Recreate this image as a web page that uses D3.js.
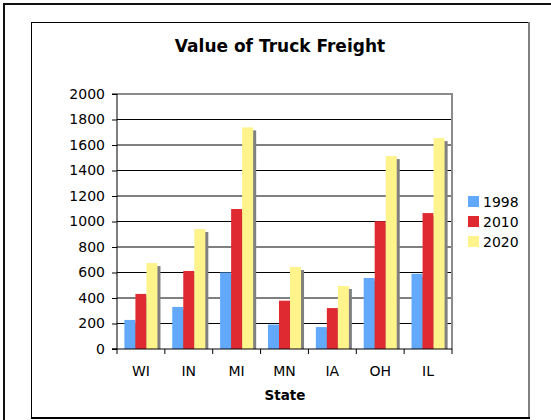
<!DOCTYPE html>
<html lang="en">
<head>
<meta charset="utf-8">
<title>Value of Truck Freight</title>
<script src="https://d3js.org/d3.v7.min.js"></script>
<style>
body { margin: 0; background: #fff; }
text { font-family: "DejaVu Sans", Verdana, sans-serif; fill: #000; }
</style>
</head>
<body>
<div id="container"></div>
<script>
// chart data
var states = ["WI", "IN", "MI", "MN", "IA", "OH", "IL"];
var years = ["1998", "2010", "2020"];
var v1998 = [228, 330, 600, 192, 172, 557, 590];
var v2010 = [432, 612, 1098, 379, 321, 1002, 1066];
var v2020 = [674, 941, 1738, 643, 494, 1513, 1654];
var yTicks = [0, 200, 400, 600, 800, 1000, 1200, 1400, 1600, 1800, 2000];
var colors = ["#63a9fb", "#df2a32", "#fff38b"];

var series = [v1998, v2010, v2020];
var rows = [];
states.forEach(function(s, i) {
    years.forEach(function(yr, j) {
        rows.push({state: s, year: yr, value: series[j][i]});
    });
});

var w = 551, h = 420;
var svg = d3.select("#container").append("svg")
    .attr("width", w).attr("height", h);

// outer frame (runs off right/bottom like the screenshot)
svg.append("rect")
    .attr("x", 4).attr("y", 4).attr("width", 560).attr("height", 430)
    .attr("fill", "none").attr("stroke", "#111").attr("stroke-width", 2);

// chart area frame
svg.append("rect")
    .attr("x", 31.5).attr("y", 22.5).attr("width", 497).attr("height", 395)
    .attr("fill", "#fff").attr("stroke", "#000").attr("stroke-width", 1);
svg.append("line")
    .attr("x1", 529).attr("x2", 529).attr("y1", 22).attr("y2", 419)
    .attr("stroke", "#808080").attr("stroke-width", 2);
svg.append("line")
    .attr("x1", 31).attr("x2", 530).attr("y1", 418).attr("y2", 418)
    .attr("stroke", "#000").attr("stroke-width", 2);

var pLeft = 117, pRight = 452, pTop = 94, pBottom = 349;

var x0 = d3.scaleBand().domain(states).range([pLeft, pRight]).padding(0);
var x1 = d3.scaleBand().domain(years).range([0, x0.bandwidth()])
    .paddingInner(0).paddingOuter(0.67);
var y = d3.scaleLinear().domain([0, 2000]).range([pBottom, pTop]);

// gridlines
svg.append("g").selectAll("line")
    .data(yTicks.slice(1, -1))
    .enter().append("line")
    .attr("x1", pLeft).attr("x2", pRight)
    .attr("y1", function(d) { return y(d); })
    .attr("y2", function(d) { return y(d); })
    .attr("stroke", "#000").attr("stroke-width", 1);

// plot border top/right
svg.append("path")
    .attr("d", "M" + pLeft + "," + pTop + "H" + pRight + "V" + pBottom)
    .attr("fill", "none").attr("stroke", "#8c8c8c").attr("stroke-width", 2);

// bar shadows
var bars = svg.append("g");
bars.selectAll("rect.shadow")
    .data(rows)
    .enter().append("rect")
    .attr("class", "shadow")
    .attr("x", function(d) { return x0(d.state) + x1(d.year) + 3; })
    .attr("y", function(d) { return y(d.value) + 3; })
    .attr("width", x1.bandwidth())
    .attr("height", function(d) { return pBottom - y(d.value) - 3; })
    .attr("fill", "#808080");

bars.selectAll("rect.bar")
    .data(rows)
    .enter().append("rect")
    .attr("class", "bar")
    .attr("x", function(d) { return x0(d.state) + x1(d.year); })
    .attr("y", function(d) { return y(d.value); })
    .attr("width", x1.bandwidth())
    .attr("height", function(d) { return pBottom - y(d.value); })
    .attr("fill", function(d) { return colors[years.indexOf(d.year)]; });

// y axis
var yAxis = svg.append("g")
    .attr("transform", "translate(" + pLeft + ",0)")
    .call(d3.axisLeft(y).tickValues(yTicks).tickFormat(d3.format("d"))
        .tickSize(5).tickPadding(7));
yAxis.attr("font-family", null).attr("font-size", null);
yAxis.selectAll("text").style("font-size", "14px");
yAxis.selectAll("line,path").attr("stroke", "#000");
yAxis.select(".domain").attr("d", "M-5," + pTop + "H0V" + pBottom + "H-5");

// x axis with ticks between categories
var xg = svg.append("g").attr("transform", "translate(0," + pBottom + ")");
xg.append("line").attr("x1", pLeft - 5).attr("x2", pRight).attr("stroke", "#000");
xg.selectAll("line.tick")
    .data(d3.range(states.length + 1))
    .enter().append("line")
    .attr("class", "tick")
    .attr("x1", function(d) { return pLeft + x0.step() * d; })
    .attr("x2", function(d) { return pLeft + x0.step() * d; })
    .attr("y1", 0).attr("y2", 5)
    .attr("stroke", "#000");
xg.selectAll("text")
    .data(states)
    .enter().append("text")
    .attr("x", function(d) { return x0(d) + x0.bandwidth() / 2; })
    .attr("y", 27)
    .attr("text-anchor", "middle")
    .style("font-size", "14px")
    .text(function(d) { return d; });

// titles
svg.append("text")
    .attr("x", 280).attr("y", 52)
    .attr("text-anchor", "middle")
    .style("font-size", "17px").style("font-weight", "bold")
    .text("Value of Truck Freight");
svg.append("text")
    .attr("x", 285).attr("y", 400)
    .attr("text-anchor", "middle")
    .style("font-size", "13.5px").style("font-weight", "bold")
    .text("State");

// legend
var lg = svg.append("g").attr("transform", "translate(468,196)");
var item = lg.selectAll("g").data(years).enter().append("g")
    .attr("transform", function(d, i) { return "translate(0," + i * 20 + ")"; });
item.append("rect").attr("width", 11).attr("height", 11)
    .attr("fill", function(d, i) { return colors[i]; });
item.append("text").attr("x", 15).attr("y", 10.5)
    .style("font-size", "14px")
    .text(function(d) { return d; });
</script>
</body>
</html>
